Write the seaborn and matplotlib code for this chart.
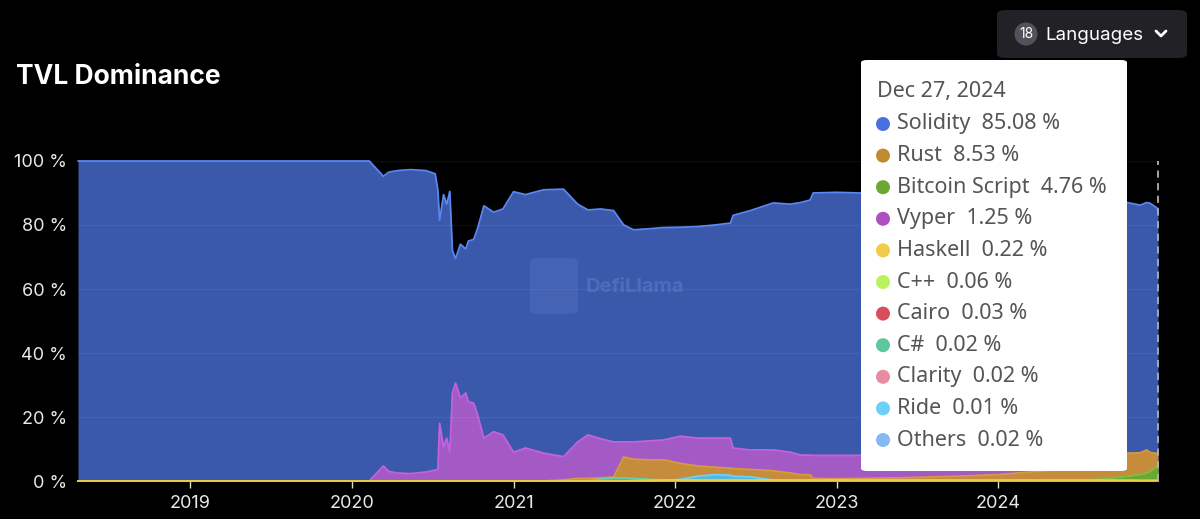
import matplotlib.pyplot as plt
from matplotlib.lines import Line2D
from matplotlib.patches import Ellipse, FancyBboxPatch
import pandas as pd
import seaborn as sns

# share of total TVL (%) per language
DATES = [
    "2018-04-23", "2019-06-01", "2020-01-15", "2020-02-10", "2020-03-13",
    "2020-03-25", "2020-04-14", "2020-05-13", "2020-06-17", "2020-07-08",
    "2020-07-14", "2020-07-18", "2020-07-27", "2020-08-03", "2020-08-10",
    "2020-08-16", "2020-08-23", "2020-09-03", "2020-09-15", "2020-09-21",
    "2020-10-03", "2020-10-12", "2020-10-26", "2020-11-17", "2020-12-08",
    "2021-01-01", "2021-01-28", "2021-03-10", "2021-04-24", "2021-05-26",
    "2021-06-18", "2021-07-17", "2021-08-15", "2021-09-07", "2021-09-29",
    "2021-11-01", "2021-12-06", "2022-01-13", "2022-02-21", "2022-04-01",
    "2022-05-06", "2022-05-12", "2022-06-20", "2022-08-11", "2022-09-18",
    "2022-10-11", "2022-11-02", "2022-11-09", "2023-01-01", "2023-02-23",
    "2023-06-01", "2023-10-01", "2024-01-01", "2024-04-01", "2024-07-01",
    "2024-08-15", "2024-10-19", "2024-11-17", "2024-12-01", "2024-12-09",
    "2024-12-27",
]
SOLIDITY = [
    100, 100, 100, 100, 95.2, 96.5, 97.0, 97.3, 97.0, 96.0,
    91.0, 81.5, 89.5, 86.5, 90.5, 72.0, 69.5, 74.0, 72.5, 75.0,
    75.5, 79.0, 86.0, 84.0, 85.0, 90.4, 89.5, 91.0, 91.2, 86.5,
    84.7, 85.0, 84.5, 80.0, 78.5, 78.8, 79.2, 79.3, 79.5, 80.0,
    80.6, 83.0, 84.5, 86.9, 86.5, 87.0, 87.8, 90.0, 90.2, 90.0,
    89.5, 89.0, 88.5, 88.0, 88.0, 87.8, 87.0, 86.2, 87.0, 86.8,
    85.08,
]
VYPER = [
    0, 0, 0, 0, 4.7, 3.0, 2.5, 2.3, 2.8, 3.4,
    3.5, 18.0, 10.6, 13.4, 9.0, 27.5, 30.6, 26.0, 27.5, 24.8,
    24.3, 20.6, 13.4, 15.4, 14.4, 9.0, 10.3, 8.7, 7.6, 12.2,
    14.4, 13.2, 12.2, 12.2, 12.2, 12.5, 12.8, 14.0, 13.4, 13.4,
    13.4, 10.3, 9.7, 9.7, 9.0, 8.1, 8.1, 8.0, 8.0, 8.0,
    7.5, 6.8, 5.0, 4.0, 3.5, 3.0, 2.0, 1.6, 1.5, 1.4,
    1.25,
]
RUST = [
    0, 0, 0, 0, 0, 0, 0, 0, 0, 0,
    0, 0, 0, 0, 0, 0, 0, 0, 0, 0,
    0, 0, 0, 0, 0, 0, 0, 0, 0.3, 0.8,
    0.8, 1.0, 1.2, 7.5, 6.8, 6.6, 6.6, 5.5, 4.7, 4.3,
    4.0, 3.9, 3.6, 3.2, 2.5, 2.0, 1.9, 0.8, 0.7, 0.8,
    1.0, 1.5, 2.0, 3.0, 4.0, 5.5, 8.7, 8.8, 9.7, 8.9,
    8.53,
]
BITCOIN_SCRIPT = [
    0, 0, 0, 0, 0, 0, 0, 0, 0, 0,
    0, 0, 0, 0, 0, 0, 0, 0, 0, 0,
    0, 0, 0, 0, 0, 0, 0, 0, 0, 0,
    0, 0, 0, 0, 0, 0, 0, 0, 0, 0,
    0, 0, 0, 0, 0, 0, 0, 0, 0, 0,
    0, 0, 0, 0, 0.2, 0.5, 1.5, 2.0, 2.5, 3.0,
    4.76,
]
CSHARP = [
    0, 0, 0, 0, 0, 0, 0, 0, 0, 0,
    0, 0, 0, 0, 0, 0, 0, 0, 0, 0,
    0, 0, 0, 0, 0, 0, 0, 0, 0, 0,
    0, 0.6, 1.0, 1.0, 0.8, 0.5, 0.3, 0.2, 0.1, 0.1,
    0.1, 0.1, 0.1, 0.1, 0.1, 0.1, 0.1, 0.1, 0.1, 0.1,
    0.1, 0.05, 0.05, 0.05, 0.03, 0.03, 0.02, 0.02, 0.02, 0.02,
    0.02,
]
RIDE = [
    0, 0, 0, 0, 0, 0, 0, 0, 0, 0,
    0, 0, 0, 0, 0, 0, 0, 0, 0, 0,
    0, 0, 0, 0, 0, 0, 0, 0, 0, 0,
    0, 0, 0, 0, 0, 0, 0, 0.5, 1.5, 2.0,
    1.8, 1.5, 1.3, 0.3, 0.2, 0.1, 0.1, 0.1, 0.05, 0.05,
    0.05, 0.02, 0.02, 0.01, 0.01, 0.01, 0.01, 0.01, 0.01, 0.01,
    0.01,
]
HASKELL = [
    0, 0, 0, 0, 0, 0, 0, 0, 0, 0,
    0, 0, 0, 0, 0, 0, 0, 0, 0, 0,
    0, 0, 0, 0, 0, 0, 0, 0, 0, 0,
    0, 0, 0, 0, 0.1, 0.2, 0.3, 0.3, 0.3, 0.3,
    0.3, 0.3, 0.3, 0.3, 0.3, 0.3, 0.3, 0.3, 0.3, 0.3,
    0.3, 0.3, 0.3, 0.3, 0.3, 0.3, 0.25, 0.22, 0.22, 0.22,
    0.22,
]

# tooltip rows (as shown for the last day)
TOOLTIP_DATE = "Dec 27, 2024"
TOOLTIP_NAMES = ["Solidity", "Rust", "Bitcoin Script", "Vyper", "Haskell", "C++",
                 "Cairo", "C#", "Clarity", "Ride", "Others"]
TOOLTIP_VALUES = ["85.08", "8.53", "4.76", "1.25", "0.22", "0.06",
                  "0.03", "0.02", "0.02", "0.01", "0.02"]
TOOLTIP_COLORS = ["#4a6fe0", "#c08a30", "#6ca733", "#ad50c0", "#f0cc48", "#b8f25e",
                  "#d84e5c", "#5ec69c", "#e88ca2", "#6dd0f6", "#86b8f4"]
YEAR_TICKS = ["2019", "2020", "2021", "2022", "2023", "2024"]

# (column, fill colour, line colour) in drawing order, back to front
SERIES = [
    ("Solidity", "#3a59ab", "#5a86f2"),
    ("Vyper", "#a45ac4", "#c462de"),
    ("Rust", "#c58c3c", "#d69a40"),
    ("C#", "#4fb8a0", "#5ed0b0"),
    ("Ride", "#58b8dc", "#6dd0f6"),
    ("Bitcoin Script", "#6ca733", "#7cc03a"),
    ("Haskell", "#f0cc48", "#f0cc48"),
]

W, H = 1200, 519


def fx(x):
    return x / W


def fy(y):
    return 1 - y / H


def dot(fig, x, y, r, color, z):
    # round dot given in pixels, placed in figure coordinates
    fig.patches.append(Ellipse((fx(x), fy(y)), 2 * r / W, 2 * r / H,
                               transform=fig.transFigure, fc=color, ec="none",
                               zorder=z))


df = pd.DataFrame({
    "date": pd.to_datetime(DATES),
    "Solidity": SOLIDITY,
    "Vyper": VYPER,
    "Rust": RUST,
    "Bitcoin Script": BITCOIN_SCRIPT,
    "C#": CSHARP,
    "Ride": RIDE,
    "Haskell": HASKELL,
})

sns.set_theme(style="dark")
plt.rcParams["font.family"] = ["Inter", "DejaVu Sans"]

fig = plt.figure(figsize=(12, 5.19), dpi=100, facecolor="black")
ax = fig.add_axes([fx(78), fy(481), fx(1158) - fx(78), fy(161) - fy(481)])
ax.set_facecolor("black")

for i, (name, fill, line) in enumerate(SERIES):
    ax.fill_between(df["date"], df[name], 0, color=fill, lw=0, zorder=2 + i)
    sns.lineplot(data=df, x="date", y=name, ax=ax, color=line, lw=1.3,
                 zorder=2.5 + i, clip_on=False)

# faint split lines
for v in [20, 40, 60, 80, 100]:
    ax.axhline(v, color="white", alpha=0.06, lw=1, zorder=20)

ax.axvline(df["date"].iloc[-1], color="#b0b0b0", lw=1.3, ls=(0, (4, 3)),
           zorder=25, clip_on=False)

ax.set_xlim(df["date"].iloc[0], df["date"].iloc[-1])
ax.set_ylim(0, 100)
ax.set_xlabel("")
ax.set_ylabel("")
ax.set_yticks([0, 20, 40, 60, 80, 100])
ax.set_yticklabels([f"{v} %" for v in [0, 20, 40, 60, 80, 100]])
ax.set_xticks(pd.to_datetime([f"{y}-01-01" for y in YEAR_TICKS]))
ax.set_xticklabels(YEAR_TICKS)
ax.tick_params(axis="y", colors="#e8e8e8", labelsize=13, length=0, pad=8)
ax.tick_params(axis="x", colors="#e0dcc0", labelcolor="#e8e8e8", labelsize=13,
               length=5, width=1, pad=5, bottom=True, direction="out")
for s in ax.spines.values():
    s.set_visible(False)
ax.grid(False)

# watermark
fig.patches.append(FancyBboxPatch((fx(530), fy(314)), fx(48), fy(258) - fy(314),
                                  boxstyle="round,pad=0,rounding_size=0.008",
                                  transform=fig.transFigure, fc="#6f8ad6",
                                  ec="none", alpha=0.22, zorder=30))
fig.text(fx(586), fy(287), "DefiLlama", color="#6f8ad6", alpha=0.4,
         fontsize=14.5, fontweight="bold", va="center", ha="left", zorder=31)

# title
fig.text(fx(16), fy(77), "TVL Dominance", color="white", fontsize=19,
         fontweight="bold", va="center", ha="left")

# languages button
fig.patches.append(FancyBboxPatch((fx(997), fy(58)), fx(190), fy(10) - fy(58),
                                  boxstyle="round,pad=0,rounding_size=0.008",
                                  transform=fig.transFigure, fc="#222226",
                                  ec="none", zorder=30))
dot(fig, 1026, 34, 11.5, "#52525c", 31)
fig.text(fx(1026), fy(34), "18", color="white", fontsize=10, ha="center",
         va="center", zorder=32)
fig.text(fx(1045), fy(35), "Languages", color="white", fontsize=13.5, ha="left",
         va="center", zorder=32)
fig.lines.append(Line2D([fx(1156), fx(1161), fx(1166)], [fy(31), fy(36), fy(31)],
                        transform=fig.transFigure, color="white", lw=2,
                        solid_capstyle="round", zorder=32))

# tooltip
fig.patches.append(FancyBboxPatch((fx(861), fy(471)), fx(266), fy(60) - fy(471),
                                  boxstyle="round,pad=0,rounding_size=0.005",
                                  transform=fig.transFigure, fc="white",
                                  ec="none", zorder=40))
tip_font = ["Noto Sans", "DejaVu Sans"]
fig.text(fx(877), fy(91), TOOLTIP_DATE, color="#555555", fontsize=15.5,
         family=tip_font, ha="left", va="center", zorder=41)
for i, (name, val, col) in enumerate(zip(TOOLTIP_NAMES, TOOLTIP_VALUES, TOOLTIP_COLORS)):
    y = 124 + i * 31.6
    dot(fig, 883, y, 7, col, 41)
    fig.text(fx(897), fy(y), f"{name}  {val} %", color="#555555", fontsize=15.5,
             family=tip_font, ha="left", va="center", zorder=41)

fig.savefig("out.png", dpi=100, facecolor="black")
